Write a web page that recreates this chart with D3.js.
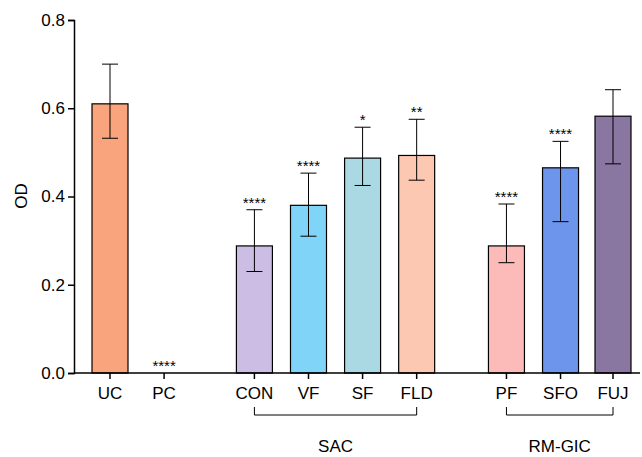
<!DOCTYPE html>
<html><head><meta charset="utf-8">
<script src="https://cdn.jsdelivr.net/npm/d3@7"></script>
<style>body{margin:0;background:#fff}text{font-family:Arial,"Liberation Sans",sans-serif}</style>
</head><body>
<script>
var categories = ['UC','PC','CON','VF','SF','FLD','PF','SFO','FUJ'],
    slots = [0, 1, 2.67, 3.67, 4.67, 5.67, 7.33, 8.33, 9.3],
    values = [0.61, 0, 0.288, 0.38, 0.487, 0.493, 0.288, 0.465, 0.582],
    errHi = [0.70, 0, 0.37, 0.453, 0.557, 0.575, 0.383, 0.525, 0.642],
    errLo = [0.532, 0, 0.23, 0.31, 0.425, 0.437, 0.25, 0.343, 0.474],
    stars = ['', '****', '****', '****', '*', '**', '****', '****', ''],
    colors = ['#f9a47c','#fff','#cbbde3','#7fd4f8','#aad8e3','#fdc8b1','#fcbbb8','#6e95ec','#8a77a1'],
    groups = [{name:'SAC', from:2, to:5}, {name:'RM-GIC', from:6, to:8}],
    yTicks = [0, 0.2, 0.4, 0.6, 0.8];

var svg = d3.select('body').append('svg').attr('width', 642).attr('height', 457);
var x = d3.scaleLinear().domain([0, 9.3]).range([110, 613]);
var y = d3.scaleLinear().domain([0, 0.8]).range([373, 20]);
var bw = 36;

svg.append('g').attr('transform', 'translate(74,0)')
  .call(d3.axisLeft(y).tickValues(yTicks).tickFormat(d3.format('.1f')).tickSize(6))
  .call(function(g){
    g.select('.domain').attr('stroke-width', 1.5);
    g.selectAll('line').attr('stroke-width', 1.5);
    g.selectAll('text').style('font-size', '17px').attr('fill', '#000');
  });

svg.append('text').attr('transform', 'translate(27,196) rotate(-90)')
  .attr('text-anchor', 'middle').style('font-size', '17px').text('OD');

var idx = d3.range(categories.length);

svg.selectAll('rect.bar').data(idx.filter(function(i){return values[i] > 0;})).enter()
  .append('rect').attr('class', 'bar')
  .attr('x', function(i){return x(slots[i]) - bw/2;})
  .attr('y', function(i){return y(values[i]);})
  .attr('width', bw)
  .attr('height', function(i){return y(0) - y(values[i]);})
  .attr('fill', function(i){return colors[i];})
  .attr('stroke', '#000').attr('stroke-width', 1.2);

var eb = svg.selectAll('g.err').data(idx.filter(function(i){return values[i] > 0;})).enter().append('g');
eb.append('line').attr('x1', function(i){return x(slots[i]);}).attr('x2', function(i){return x(slots[i]);})
  .attr('y1', function(i){return y(errHi[i]);}).attr('y2', function(i){return y(errLo[i]);});
eb.append('line').attr('x1', function(i){return x(slots[i]) - 8;}).attr('x2', function(i){return x(slots[i]) + 8;})
  .attr('y1', function(i){return y(errHi[i]);}).attr('y2', function(i){return y(errHi[i]);});
eb.append('line').attr('x1', function(i){return x(slots[i]) - 8;}).attr('x2', function(i){return x(slots[i]) + 8;})
  .attr('y1', function(i){return y(errLo[i]);}).attr('y2', function(i){return y(errLo[i]);});
eb.selectAll('line').attr('stroke', '#000').attr('stroke-width', 1);

svg.selectAll('text.star').data(idx).enter().append('text')
  .attr('x', function(i){return x(slots[i]);})
  .attr('y', function(i){return (values[i] > 0 ? y(errHi[i]) : y(0)) - 2;})
  .attr('text-anchor', 'middle').style('font-size', '15px')
  .text(function(i){return stars[i];});

// x axis baseline
svg.append('line').attr('x1', 74).attr('x2', 640).attr('y1', y(0)).attr('y2', y(0))
  .attr('stroke', '#000').attr('stroke-width', 1.5);
svg.selectAll('line.xt').data(idx).enter().append('line')
  .attr('x1', function(i){return x(slots[i]);}).attr('x2', function(i){return x(slots[i]);})
  .attr('y1', y(0)).attr('y2', y(0) + 6).attr('stroke', '#000').attr('stroke-width', 1.5);
svg.selectAll('text.xl').data(idx).enter().append('text')
  .attr('x', function(i){return x(slots[i]);}).attr('y', 399)
  .attr('text-anchor', 'middle').style('font-size', '17px')
  .text(function(i){return categories[i];});

groups.forEach(function(g){
  var x1 = x(slots[g.from]), x2 = x(slots[g.to]);
  svg.append('path').attr('d', 'M' + x1 + ',407V415H' + x2 + 'V407')
    .attr('fill', 'none').attr('stroke', '#000').attr('stroke-width', 1);
  svg.append('text').attr('x', (x1 + x2) / 2).attr('y', 452)
    .attr('text-anchor', 'middle').style('font-size', '17px').text(g.name);
});
</script>
</body></html>
